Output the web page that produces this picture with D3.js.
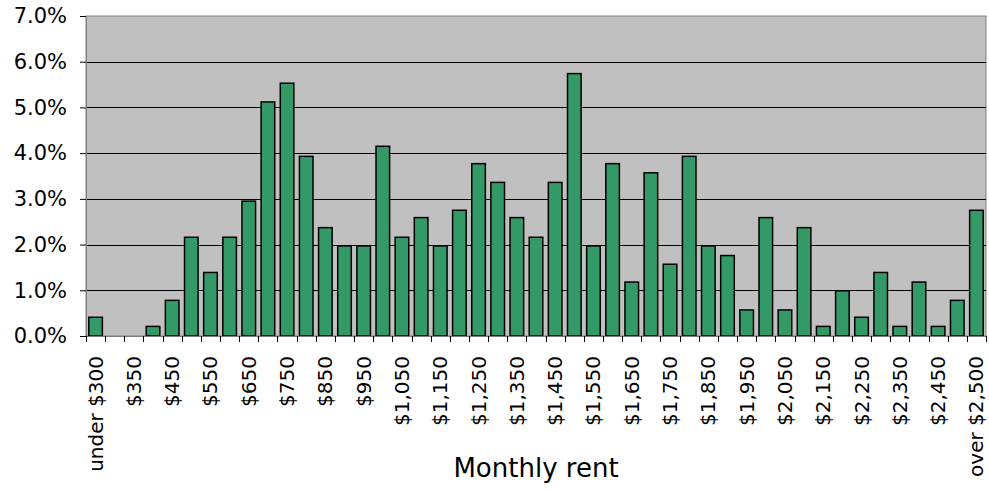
<!DOCTYPE html>
<html>
<head>
<meta charset="utf-8">
<script src="https://cdn.jsdelivr.net/npm/d3@7"></script>
<style>
  body { margin: 0; background: #fff; }
  svg { display: block; font-family: "DejaVu Sans", Verdana, sans-serif; }
</style>
</head>
<body>
<script>
const width = 989;
const height = 489;

// rent brackets, every other one gets a label
const categories = [
  "under $300", "$300", "$350", "$400", "$450", "$500", "$550", "$600",
  "$650", "$700", "$750", "$800", "$850", "$900", "$950", "$1,000",
  "$1,050", "$1,100", "$1,150", "$1,200", "$1,250", "$1,300", "$1,350", "$1,400",
  "$1,450", "$1,500", "$1,550", "$1,600", "$1,650", "$1,700", "$1,750", "$1,800",
  "$1,850", "$1,900", "$1,950", "$2,000", "$2,050", "$2,100", "$2,150", "$2,200",
  "$2,250", "$2,300", "$2,350", "$2,400", "$2,450", "$2,500", "over $2,500"
];

// share of listings, in percent
const shares = [
  0.41, 0, 0, 0.21, 0.78, 2.16, 1.39, 2.16,
  2.95, 5.12, 5.53, 3.93, 2.37, 1.97, 1.97, 4.15,
  2.16, 2.59, 1.97, 2.75, 3.77, 3.36, 2.59, 2.16,
  3.36, 5.74, 1.97, 3.77, 1.18, 3.57, 1.57, 3.93,
  1.97, 1.76, 0.57, 2.59, 0.57, 2.37, 0.21, 0.99,
  0.41, 1.39, 0.21, 1.18, 0.21, 0.78, 2.75
];

const yTicks = [0, 0.01, 0.02, 0.03, 0.04, 0.05, 0.06, 0.07];
const xTitle = "Monthly rent";

const margin = { top: 16, right: 3, bottom: 153, left: 86 };

const data = categories.map((c, i) => ({ cat: c, value: shares[i] / 100 }));

const svg = d3.select('body').append('svg')
  .attr('width', width)
  .attr('height', height);

const x = d3.scaleBand()
  .domain(categories)
  .range([margin.left, width - margin.right])
  .paddingInner(0.29)
  .paddingOuter(0.145);

const y = d3.scaleLinear()
  .domain([0, 0.07])
  .range([height - margin.bottom, margin.top]);

const plotW = width - margin.right - margin.left;
const plotH = height - margin.bottom - margin.top;

// plot background
svg.append('rect')
  .attr('x', margin.left)
  .attr('y', margin.top)
  .attr('width', plotW)
  .attr('height', plotH)
  .attr('fill', '#c0c0c0')
  .attr('stroke', '#808080')
  .attr('stroke-width', 1);

// gridlines
svg.append('g')
  .selectAll('line')
  .data(yTicks.slice(1, -1))
  .join('line')
  .attr('x1', margin.left)
  .attr('x2', width - margin.right)
  .attr('y1', d => Math.round(y(d)) + 0.5)
  .attr('y2', d => Math.round(y(d)) + 0.5)
  .attr('stroke', '#000')
  .attr('stroke-width', 1);

// bars
svg.append('g')
  .selectAll('rect')
  .data(data.filter(d => d.value > 0))
  .join('rect')
  .attr('x', d => x(d.cat))
  .attr('y', d => y(d.value))
  .attr('width', x.bandwidth())
  .attr('height', d => y(0) - y(d.value))
  .attr('fill', '#339966')
  .attr('stroke', '#000')
  .attr('stroke-width', 1.5);

// y axis
const yAxis = svg.append('g')
  .attr('transform', `translate(${margin.left},0)`)
  .call(d3.axisLeft(y).tickValues(yTicks).tickFormat(d3.format('.1%')).tickSize(6).tickPadding(13));
yAxis.select('.domain').attr('stroke', '#808080');
yAxis.selectAll('.tick line').attr('stroke', '#000');
yAxis.selectAll('text')
  .attr('font-size', 21)
  .attr('font-family', '"DejaVu Sans", Verdana, sans-serif')
  .attr('fill', '#000');

// x axis: labels on every other category, ticks between categories
const xAxis = svg.append('g')
  .attr('transform', `translate(0,${height - margin.bottom})`)
  .call(d3.axisBottom(x)
    .tickValues(categories.filter((d, i) => i % 2 === 0))
    .tickSize(0)
    .tickSizeOuter(0));
xAxis.select('.domain').attr('stroke', '#808080');
xAxis.selectAll('text')
  .attr('transform', 'rotate(-90)')
  .attr('text-anchor', 'end')
  .attr('x', -20)
  .attr('y', 0)
  .attr('dy', '0.35em')
  .attr('font-size', 20)
  .attr('font-family', '"DejaVu Sans", Verdana, sans-serif')
  .attr('fill', '#000');

const step = x.step();
const boundaries = categories.map(c => x(c) - step * x.paddingInner() / 2)
  .concat([x(categories[categories.length - 1]) + x.bandwidth() + step * x.paddingInner() / 2]);

xAxis.append('g')
  .selectAll('line')
  .data(boundaries)
  .join('line')
  .attr('x1', d => Math.round(d) + 0.5)
  .attr('x2', d => Math.round(d) + 0.5)
  .attr('y1', 0)
  .attr('y2', 6)
  .attr('stroke', '#000');

// axis title
svg.append('text')
  .attr('x', margin.left + plotW / 2)
  .attr('y', 477)
  .attr('text-anchor', 'middle')
  .attr('font-size', 26)
  .attr('fill', '#000')
  .text(xTitle);
</script>
</body>
</html>
